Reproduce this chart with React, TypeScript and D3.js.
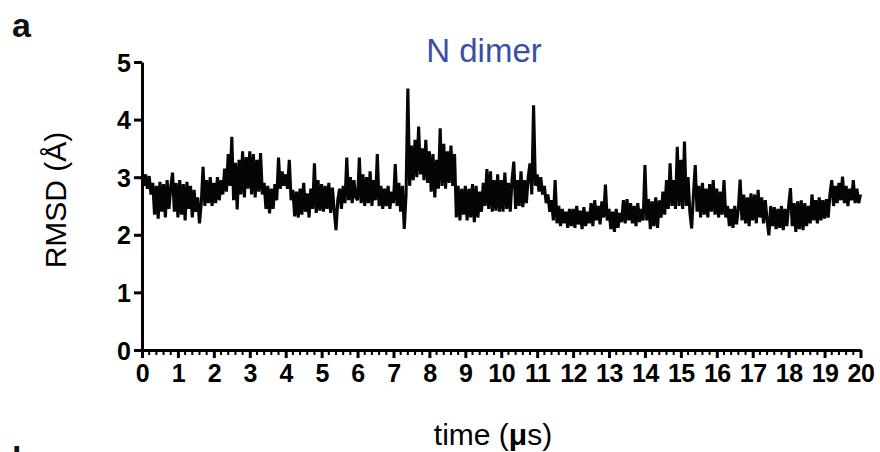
import React, { useEffect, useRef } from 'react'
import * as d3 from 'd3'

// RMSD trace, one value every 0.05 µs from 0 to 20 µs
const timeStep = 0.05
const rmsd = [
  // 0 - 1 µs
  3.00, 2.85, 3.05, 2.80, 3.02, 2.70, 2.90, 2.35, 2.85, 2.28, 2.92, 2.40, 2.88, 2.30, 2.95, 2.45, 2.82, 3.08, 2.40, 2.90,
  // 1 - 2
  2.30, 2.95, 2.35, 2.88, 2.25, 2.92, 2.45, 2.85, 2.30, 2.78, 2.40, 2.65, 2.20, 2.55, 3.18, 2.50, 2.95, 2.55, 3.00, 2.50,
  // 2 - 3
  2.90, 2.55, 3.00, 2.60, 2.95, 2.70, 3.15, 2.75, 3.40, 2.85, 3.70, 2.60, 3.25, 2.44, 3.30, 2.70, 3.45, 2.65, 3.35, 2.80,
  // 3 - 4
  3.45, 2.70, 3.40, 2.65, 3.30, 2.75, 3.42, 2.70, 2.90, 2.45, 2.85, 2.37, 2.80, 2.45, 2.88, 2.60, 3.34, 2.80, 3.10, 2.85,
  // 4 - 5
  3.05, 2.80, 3.30, 2.60, 2.78, 2.32, 2.75, 2.30, 2.80, 2.35, 2.90, 2.40, 2.72, 2.30, 2.80, 2.45, 3.24, 2.38, 2.95, 2.42,
  // 5 - 6
  2.88, 2.40, 2.85, 2.45, 2.90, 2.38, 2.82, 2.42, 2.08, 2.60, 2.80, 2.45, 2.85, 2.55, 3.34, 2.60, 3.00, 2.55, 2.95, 2.65,
  // 6 - 7
  2.60, 3.34, 2.55, 3.05, 2.50, 3.00, 2.55, 3.10, 2.50, 2.95, 2.60, 3.40, 2.50, 2.85, 2.45, 2.80, 2.50, 2.85, 2.45, 2.75,
  // 7 - 8
  2.55, 3.23, 2.50, 2.90, 2.40, 2.85, 2.10, 2.70, 4.54, 2.85, 3.55, 2.95, 3.65, 3.00, 3.88, 3.05, 3.50, 2.95, 3.65, 2.90,
  // 8 - 9
  3.45, 2.75, 3.40, 2.65, 3.30, 2.80, 3.85, 2.85, 3.58, 2.80, 3.45, 2.90, 3.55, 2.85, 3.40, 2.30, 2.85, 2.25, 2.80, 2.35,
  // 9 - 10
  2.85, 2.25, 2.80, 2.30, 2.88, 2.22, 2.85, 2.30, 2.75, 2.40, 2.90, 2.50, 3.14, 2.45, 3.10, 2.40, 2.95, 2.42, 3.05, 2.40,
  // 10 - 11
  2.95, 2.40, 3.08, 2.45, 2.90, 2.40, 2.95, 3.27, 2.45, 2.95, 2.50, 3.10, 2.48, 2.95, 2.55, 3.00, 3.24, 2.70, 4.25, 2.85,
  // 11 - 12
  3.05, 2.75, 3.00, 2.70, 2.85, 2.55, 2.70, 2.40, 2.60, 2.25, 2.95, 2.20, 2.50, 2.15, 2.45, 2.20, 2.40, 2.12, 2.45, 2.15,
  // 12 - 13
  2.45, 2.12, 2.50, 2.18, 2.42, 2.10, 2.48, 2.15, 2.40, 2.20, 2.55, 2.15, 2.60, 2.25, 2.50, 2.18, 2.58, 2.30, 2.87, 2.25,
  // 13 - 14
  2.45, 2.10, 2.40, 2.05, 2.45, 2.12, 2.38, 2.22, 2.60, 2.20, 2.62, 2.25, 2.55, 2.20, 2.50, 2.15, 2.55, 2.22, 2.45, 2.25,
  // 14 - 15
  3.21, 2.25, 2.62, 2.10, 2.58, 2.15, 2.65, 2.12, 2.60, 2.30, 2.75, 2.35, 2.95, 2.45, 3.24, 2.50, 2.95, 2.45, 3.53, 2.50,
  // 15 - 16
  3.30, 2.45, 3.62, 2.50, 3.00, 2.40, 2.11, 2.70, 3.21, 2.40, 2.85, 2.30, 2.90, 2.35, 2.80, 2.30, 2.88, 2.40, 2.95, 2.35,
  // 16 - 17
  2.80, 2.30, 2.75, 2.35, 2.95, 2.30, 2.50, 2.15, 2.45, 2.12, 2.50, 2.18, 2.45, 2.96, 2.25, 2.70, 2.20, 2.65, 2.15, 2.72,
  // 17 - 18
  2.25, 2.70, 2.20, 2.78, 2.30, 2.65, 2.20, 2.60, 2.25, 1.99, 2.50, 2.15, 2.48, 2.10, 2.45, 2.12, 2.50, 2.08, 2.45, 2.15,
  // 18 - 19
  2.50, 2.81, 2.15, 2.55, 2.05, 2.58, 2.10, 2.60, 2.08, 2.55, 2.15, 2.50, 2.20, 2.70, 2.25, 2.60, 2.20, 2.65, 2.25, 2.60,
  // 19 - 20
  2.28, 2.62, 2.30, 2.70, 2.95, 2.50, 2.85, 2.55, 2.90, 2.60, 3.01, 2.55, 2.85, 2.50, 2.80, 2.60, 2.95, 2.55, 2.80, 2.55,
  2.70,
]

const xTicks = [0, 1, 2, 3, 4, 5, 6, 7, 8, 9, 10, 11, 12, 13, 14, 15, 16, 17, 18, 19, 20]
const yTicks = [0, 1, 2, 3, 4, 5]

const FONT = '"Liberation Sans", Arial, Helvetica, sans-serif'

export default function App() {
  const svgRef = useRef<SVGSVGElement>(null)

  useEffect(() => {
    if (!svgRef.current) return
    const width = 880
    const height = 452
    const margin = { top: 62, right: 19.5, bottom: 102, left: 142 }
    const innerWidth = width - margin.left - margin.right
    const innerHeight = height - margin.top - margin.bottom

    const svg = d3.select(svgRef.current)
    svg.selectAll('*').remove()

    const g = svg.append('g')
      .attr('transform', `translate(${margin.left},${margin.top})`)

    const xScale = d3.scaleLinear().domain([0, 20]).range([0, innerWidth])
    const yScale = d3.scaleLinear().domain([0, 5]).range([innerHeight, 0])

    // trace
    const line = d3.line<number>()
      .x((d, i) => xScale(i * timeStep))
      .y(d => yScale(d))

    g.append('path')
      .datum(rmsd)
      .attr('d', line)
      .style('fill', 'none')
      .style('stroke', '#050505')
      .style('stroke-width', 3.1)
      .style('stroke-linejoin', 'miter')
      .style('stroke-miterlimit', 3)

    // minor x ticks
    const minor = d3.range(0, 100).map(i => i * 0.2).filter(v => Math.abs(v - Math.round(v)) > 1e-6)
    g.append('g')
      .selectAll('line')
      .data(minor)
      .enter()
      .append('line')
      .attr('x1', d => xScale(d))
      .attr('x2', d => xScale(d))
      .attr('y1', innerHeight)
      .attr('y2', innerHeight + 5)
      .style('stroke', '#000')
      .style('stroke-width', 2)

    const xAxis = d3.axisBottom(xScale)
      .tickValues(xTicks)
      .tickSize(8)
      .tickSizeOuter(0)
      .tickPadding(6)
      .tickFormat(d => `${d}`)

    const yAxis = d3.axisLeft(yScale)
      .tickValues(yTicks)
      .tickSize(8)
      .tickSizeOuter(0)
      .tickPadding(3)
      .tickFormat(d => `${d}`)

    const gx = g.append('g')
      .attr('transform', `translate(0,${innerHeight})`)
      .call(xAxis)
    gx.selectAll('text')
      .style('font-family', FONT)
      .style('font-weight', 'bold')
      .style('font-size', '25px')
      .style('letter-spacing', '-0.5px')
      .style('fill', '#000')

    const gy = g.append('g').call(yAxis)
    gy.selectAll('text')
      .style('font-family', FONT)
      .style('font-weight', 'bold')
      .style('font-size', '25px')
      .style('fill', '#000')
      .attr('dy', '0.36em')

    svg.selectAll('.domain, .tick line')
      .style('stroke', '#000')
      .style('stroke-width', 3)

    // labels
    svg.append('text')
      .attr('x', 12)
      .attr('y', 37)
      .style('font-family', FONT)
      .style('font-weight', 'bold')
      .style('font-size', '34px')
      .style('fill', '#111')
      .text('a')

    // top of the next panel's letter, cut by the bottom edge as in the figure
    svg.append('text')
      .attr('x', 12)
      .attr('y', 470)
      .style('font-family', FONT)
      .style('font-weight', 'bold')
      .style('font-size', '34px')
      .style('fill', '#111')
      .text('b')

    svg.append('text')
      .attr('x', 484)
      .attr('y', 62)
      .attr('text-anchor', 'middle')
      .style('font-family', FONT)
      .style('font-size', '33px')
      .style('fill', '#3a4fa3')
      .text('N dimer')

    svg.append('text')
      .attr('transform', `translate(66,200) rotate(-90)`)
      .attr('text-anchor', 'middle')
      .style('font-family', FONT)
      .style('font-size', '30px')
      .style('fill', '#000')
      .text('RMSD (Å)')

    const xt = svg.append('text')
      .attr('x', 493)
      .attr('y', 445)
      .attr('text-anchor', 'middle')
      .style('font-family', FONT)
      .style('font-size', '30px')
      .style('fill', '#000')
    xt.append('tspan').text('time (')
    xt.append('tspan').style('font-weight', 'bold').text('μ')
    xt.append('tspan').text('s)')
  }, [])

  return (
    <svg
      ref={svgRef}
      width={880}
      height={452}
      style={{ position: 'absolute', left: 0, top: 0, background: '#fff' }}
    />
  )
}
